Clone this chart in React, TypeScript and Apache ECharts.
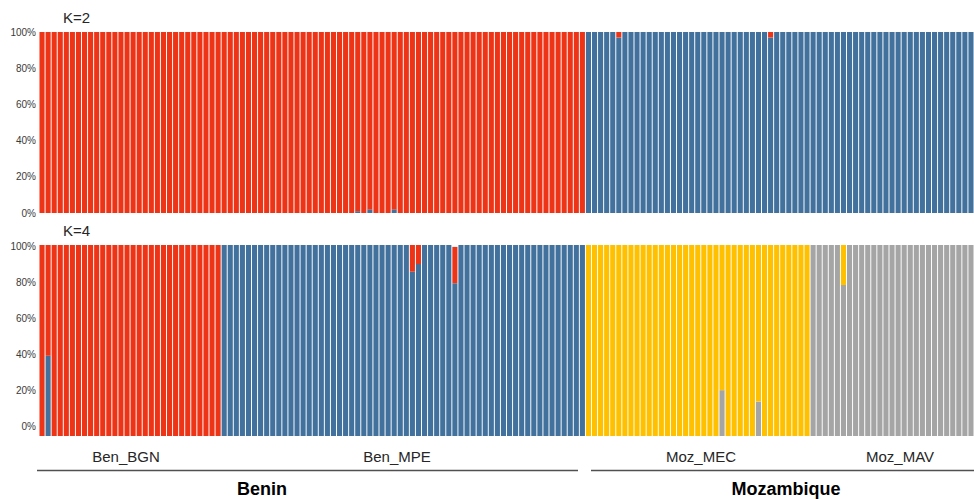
import React, { useEffect, useRef } from "react";
import * as echarts from "echarts";

const populations = ["Ben_BGN", "Ben_MPE", "Moz_MEC", "Moz_MAV"];
const popSizes = [30, 60, 37, 27];
const tickLabels = ["0%", "20%", "40%", "60%", "80%", "100%"];

// K=2 membership (%) per individual
const k2Blue = [
  0, 0, 0, 0, 0, 0, 0, 0, 0, 0,
  0, 0, 0, 0, 0, 0, 0, 0, 0, 0,
  0, 0, 0, 0, 0, 0, 0, 0, 0, 0,
  0, 0, 0, 0, 0, 0, 0, 0, 0, 0,
  0, 0, 0, 0, 0, 0, 0, 0, 0, 0,
  0, 0, 1, 0, 2, 0, 0, 0, 2, 0,
  0, 0, 0, 0, 0, 0, 0, 0, 0, 0,
  0, 0, 0, 0, 0, 0, 0, 0, 0, 0,
  0, 0, 0, 0, 0, 0, 0, 0, 0, 0,
  100, 100, 100, 100, 100, 97, 100, 100, 100, 100,
  100, 100, 100, 100, 100, 100, 100, 100, 100, 100,
  100, 100, 100, 100, 100, 100, 100, 100, 100, 100,
  97, 100, 100, 100, 100, 100, 100, 100, 100, 100,
  100, 100, 100, 100, 100, 100, 100, 100, 100, 100,
  100, 100, 100, 100, 100, 100, 100, 100, 100, 100,
  100, 100, 100, 100,
];
const k2Red = [
  100, 100, 100, 100, 100, 100, 100, 100, 100, 100,
  100, 100, 100, 100, 100, 100, 100, 100, 100, 100,
  100, 100, 100, 100, 100, 100, 100, 100, 100, 100,
  100, 100, 100, 100, 100, 100, 100, 100, 100, 100,
  100, 100, 100, 100, 100, 100, 100, 100, 100, 100,
  100, 100, 99, 100, 98, 100, 100, 100, 98, 100,
  100, 100, 100, 100, 100, 100, 100, 100, 100, 100,
  100, 100, 100, 100, 100, 100, 100, 100, 100, 100,
  100, 100, 100, 100, 100, 100, 100, 100, 100, 100,
  0, 0, 0, 0, 0, 3, 0, 0, 0, 0,
  0, 0, 0, 0, 0, 0, 0, 0, 0, 0,
  0, 0, 0, 0, 0, 0, 0, 0, 0, 0,
  3, 0, 0, 0, 0, 0, 0, 0, 0, 0,
  0, 0, 0, 0, 0, 0, 0, 0, 0, 0,
  0, 0, 0, 0, 0, 0, 0, 0, 0, 0,
  0, 0, 0, 0,
];

// K=4 membership (%) per individual
const k4Blue = [
  0, 42, 0, 0, 0, 0, 0, 0, 0, 0,
  0, 0, 0, 0, 0, 0, 0, 0, 0, 0,
  0, 0, 0, 0, 0, 0, 0, 0, 0, 0,
  100, 100, 100, 100, 100, 100, 100, 100, 100, 100,
  100, 100, 100, 100, 100, 100, 100, 100, 100, 100,
  100, 100, 100, 100, 100, 100, 100, 100, 100, 100,
  100, 86, 90, 100, 100, 100, 100, 100, 80, 100,
  100, 100, 100, 100, 100, 100, 100, 100, 100, 100,
  100, 100, 100, 100, 100, 100, 100, 100, 100, 100,
  0, 0, 0, 0, 0, 0, 0, 0, 0, 0,
  0, 0, 0, 0, 0, 0, 0, 0, 0, 0,
  0, 0, 0, 0, 0, 0, 0, 0, 0, 0,
  0, 0, 0, 0, 0, 0, 0, 0, 0, 0,
  0, 0, 0, 0, 0, 0, 0, 0, 0, 0,
  0, 0, 0, 0, 0, 0, 0, 0, 0, 0,
  0, 0, 0, 0,
];
const k4Gray = [
  0, 0, 0, 0, 0, 0, 0, 0, 0, 0,
  0, 0, 0, 0, 0, 0, 0, 0, 0, 0,
  0, 0, 0, 0, 0, 0, 0, 0, 0, 0,
  0, 0, 0, 0, 0, 0, 0, 0, 0, 0,
  0, 0, 0, 0, 0, 0, 0, 0, 0, 0,
  0, 0, 0, 0, 0, 0, 0, 0, 0, 0,
  0, 0, 0, 0, 0, 0, 0, 0, 0, 0,
  0, 0, 0, 0, 0, 0, 0, 0, 0, 0,
  0, 0, 0, 0, 0, 0, 0, 0, 0, 0,
  0, 0, 0, 0, 0, 0, 0, 0, 0, 0,
  0, 0, 0, 0, 0, 0, 0, 0, 0, 0,
  0, 0, 24, 0, 0, 0, 0, 0, 18, 0,
  0, 0, 0, 0, 0, 0, 0, 100, 100, 100,
  100, 100, 79, 100, 100, 100, 100, 100, 100, 100,
  100, 100, 100, 100, 100, 100, 100, 100, 100, 100,
  100, 100, 100, 100,
];
const k4Red = [
  100, 58, 100, 100, 100, 100, 100, 100, 100, 100,
  100, 100, 100, 100, 100, 100, 100, 100, 100, 100,
  100, 100, 100, 100, 100, 100, 100, 100, 100, 100,
  0, 0, 0, 0, 0, 0, 0, 0, 0, 0,
  0, 0, 0, 0, 0, 0, 0, 0, 0, 0,
  0, 0, 0, 0, 0, 0, 0, 0, 0, 0,
  0, 14, 10, 0, 0, 0, 0, 0, 19, 0,
  0, 0, 0, 0, 0, 0, 0, 0, 0, 0,
  0, 0, 0, 0, 0, 0, 0, 0, 0, 0,
  0, 0, 0, 0, 0, 0, 0, 0, 0, 0,
  0, 0, 0, 0, 0, 0, 0, 0, 0, 0,
  0, 0, 0, 0, 0, 0, 0, 0, 0, 0,
  0, 0, 0, 0, 0, 0, 0, 0, 0, 0,
  0, 0, 0, 0, 0, 0, 0, 0, 0, 0,
  0, 0, 0, 0, 0, 0, 0, 0, 0, 0,
  0, 0, 0, 0,
];
const k4Yellow = [
  0, 0, 0, 0, 0, 0, 0, 0, 0, 0,
  0, 0, 0, 0, 0, 0, 0, 0, 0, 0,
  0, 0, 0, 0, 0, 0, 0, 0, 0, 0,
  0, 0, 0, 0, 0, 0, 0, 0, 0, 0,
  0, 0, 0, 0, 0, 0, 0, 0, 0, 0,
  0, 0, 0, 0, 0, 0, 0, 0, 0, 0,
  0, 0, 0, 0, 0, 0, 0, 0, 0, 0,
  0, 0, 0, 0, 0, 0, 0, 0, 0, 0,
  0, 0, 0, 0, 0, 0, 0, 0, 0, 0,
  100, 100, 100, 100, 100, 100, 100, 100, 100, 100,
  100, 100, 100, 100, 100, 100, 100, 100, 100, 100,
  100, 100, 76, 100, 100, 100, 100, 100, 82, 100,
  100, 100, 100, 100, 100, 100, 100, 0, 0, 0,
  0, 0, 21, 0, 0, 0, 0, 0, 0, 0,
  0, 0, 0, 0, 0, 0, 0, 0, 0, 0,
  0, 0, 0, 0,
];

const RED = "#EE3417";
const BLUE = "#41719C";
const YELLOW = "#FFC000";
const GRAY = "#A5A5A5";

export default function App() {
  const ref = useRef<HTMLDivElement>(null);
  useEffect(() => {
    if (!ref.current) return;
    const chart = echarts.init(ref.current, undefined, { renderer: "svg" });
    const categories: string[] = [];
    populations.forEach((p, pi) => {
      for (let i = 0; i < popSizes[pi]; i++) categories.push(p + "_" + (i + 1));
    });
    const labelFont = {
      fontFamily: "'Liberation Sans Narrow', 'Liberation Sans', Arial, sans-serif",
      fontSize: 10,
      color: "#3a3a3a",
      margin: 3,
      formatter: (v: number) => tickLabels[Math.round(v / 20)] ?? "",
    };
    const gap = "16%";
    const bar = (name: string, data: number[], color: string, axis: number, stack: string) => ({
      name,
      type: "bar",
      stack,
      xAxisIndex: axis,
      yAxisIndex: axis,
      data,
      barCategoryGap: gap,
      itemStyle: { color },
      silent: true,
    });
    const textFont = "'Liberation Sans', Arial, sans-serif";
    chart.setOption({
      animation: false,
      grid: [
        { left: 39, right: 0, top: 32, height: 181 },
        { left: 39, right: 0, top: 245, height: 191 },
        { left: 39, right: 0, top: 246, height: 180 },
      ],
      xAxis: [0, 1, 2].map((i) => ({
        type: "category",
        gridIndex: i,
        data: categories,
        show: false,
      })),
      yAxis: [
        {
          gridIndex: 0, type: "value", min: 0, max: 100, interval: 20,
          axisLine: { show: false }, axisTick: { show: false }, splitLine: { show: false },
          axisLabel: labelFont,
        },
        { gridIndex: 1, type: "value", min: 0, max: 100, show: false },
        {
          gridIndex: 2, type: "value", min: 0, max: 100, interval: 20,
          axisLine: { show: false }, axisTick: { show: false }, splitLine: { show: false },
          axisLabel: labelFont,
        },
      ],
      series: [
        bar("K2 cluster 1", k2Blue, BLUE, 0, "k2"),
        bar("K2 cluster 2", k2Red, RED, 0, "k2"),
        bar("K4 cluster 1", k4Blue, BLUE, 1, "k4"),
        bar("K4 cluster 2", k4Gray, GRAY, 1, "k4"),
        bar("K4 cluster 3", k4Red, RED, 1, "k4"),
        bar("K4 cluster 4", k4Yellow, YELLOW, 1, "k4"),
        { type: "bar", xAxisIndex: 2, yAxisIndex: 2, data: [] },
      ],
      graphic: [
        { type: "text", left: 63, top: 10, style: { text: "K=2", font: "15px " + textFont, fill: "#262626" } },
        { type: "text", left: 63, top: 223, style: { text: "K=4", font: "15px " + textFont, fill: "#262626" } },
        { type: "text", x: 126, y: 456, style: { text: "Ben_BGN", font: "15px " + textFont, fill: "#262626", align: "center", verticalAlign: "middle" } },
        { type: "text", x: 397, y: 456, style: { text: "Ben_MPE", font: "15px " + textFont, fill: "#262626", align: "center", verticalAlign: "middle" } },
        { type: "text", x: 701, y: 456, style: { text: "Moz_MEC", font: "15px " + textFont, fill: "#262626", align: "center", verticalAlign: "middle" } },
        { type: "text", x: 900, y: 456, style: { text: "Moz_MAV", font: "15px " + textFont, fill: "#262626", align: "center", verticalAlign: "middle" } },
        { type: "line", shape: { x1: 37, y1: 470.5, x2: 578, y2: 470.5 }, style: { stroke: "#505050", lineWidth: 1.5 } },
        { type: "line", shape: { x1: 591, y1: 470.5, x2: 974, y2: 470.5 }, style: { stroke: "#505050", lineWidth: 1.5 } },
        { type: "text", x: 262, y: 489, style: { text: "Benin", font: "bold 18px " + textFont, fill: "#000", align: "center", verticalAlign: "middle" } },
        { type: "text", x: 786, y: 489, style: { text: "Mozambique", font: "bold 18px " + textFont, fill: "#000", align: "center", verticalAlign: "middle" } },
      ],
    });
    return () => chart.dispose();
  }, []);
  return (
    <div
      ref={ref}
      style={{ position: "fixed", left: 0, top: 0, width: 974, height: 499, background: "#fff" }}
    />
  );
}
